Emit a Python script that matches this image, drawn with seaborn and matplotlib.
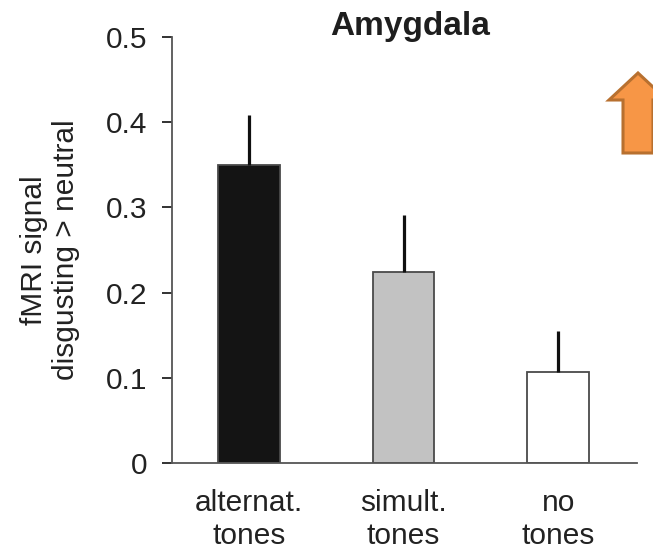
import numpy as np
import pandas as pd
import matplotlib
matplotlib.use("Agg")
import matplotlib.pyplot as plt
from matplotlib.patches import Polygon
import seaborn as sns

# Condition labels and mean contrast values (disgusting > neutral)
conditions = ["alternat.\ntones", "simult.\ntones", "no\ntones"]
signal = [0.350, 0.224, 0.107]
sem = [0.058, 0.067, 0.048]
bar_colors = ["#141414", "#c2c2c2", "#ffffff"]
y_ticks = [0, 0.1, 0.2, 0.3, 0.4, 0.5]
y_tick_labels = ["0", "0.1", "0.2", "0.3", "0.4", "0.5"]

sns.set_theme(style="white")
plt.rcParams["font.family"] = ["Liberation Sans", "DejaVu Sans"]

W, H = 653, 552
FS = 21.5
fig = plt.figure(figsize=(W / 100, H / 100), dpi=100)
ax = fig.add_axes([172 / W, 1 - 463 / H, (637 - 172) / W, (463 - 37) / H])

df = pd.DataFrame({"condition": conditions, "signal": signal})
sns.barplot(data=df, x="condition", y="signal", hue="condition",
            palette=bar_colors, legend=False, width=0.40,
            edgecolor="#4a4a4a", linewidth=1.3, ax=ax, errorbar=None)

# one-sided (upward) error bars
xpos = np.arange(len(conditions))
ax.errorbar(xpos, signal, yerr=[np.zeros(len(sem)), sem], fmt="none",
            ecolor="#101010", elinewidth=2.3, capsize=0, zorder=5)

ax.set_xlim(-0.498, 2.51)
ax.set_ylim(0, 0.5)
ax.set_yticks(y_ticks)
ax.set_yticklabels(y_tick_labels)
ax.set_xlabel("")
ax.set_ylabel("fMRI signal\ndisgusting > neutral", fontsize=FS,
              color="#222222", labelpad=18, linespacing=1.22)
ax.set_title("Amygdala", fontsize=24, fontweight="bold", color="#1e1e1e",
             x=0.512, pad=1.5)

for lbl in ax.get_xticklabels():
    lbl.set_linespacing(1.2)
ax.tick_params(axis="x", length=0, pad=19, labelsize=FS, colors="#222222")
ax.tick_params(axis="y", length=7, width=1.3, direction="out", pad=11,
               labelsize=FS, colors="#222222")
for t in ax.yaxis.get_ticklines():
    t.set_color("#555555")
ax.yaxis.set_ticks_position("left")

sns.despine(ax=ax, top=True, right=True)
for side in ("left", "bottom"):
    ax.spines[side].set_color("#555555")
    ax.spines[side].set_linewidth(1.3)

# orange up-arrow at the right edge
def fx(px):
    return px / W

def fy(py):
    return 1 - py / H

cx = 638
arrow_pts = [
    (cx, 73), (cx - 29, 100), (cx - 15, 100), (cx - 15, 153),
    (cx + 15, 153), (cx + 15, 100), (cx + 29, 100),
]
arrow = Polygon([(fx(x), fy(y)) for x, y in arrow_pts], closed=True,
                transform=fig.transFigure, facecolor="#f79646",
                edgecolor="#b8702f", linewidth=2.2, joinstyle="miter")
fig.patches.append(arrow)

fig.savefig("out.png", dpi=100)
